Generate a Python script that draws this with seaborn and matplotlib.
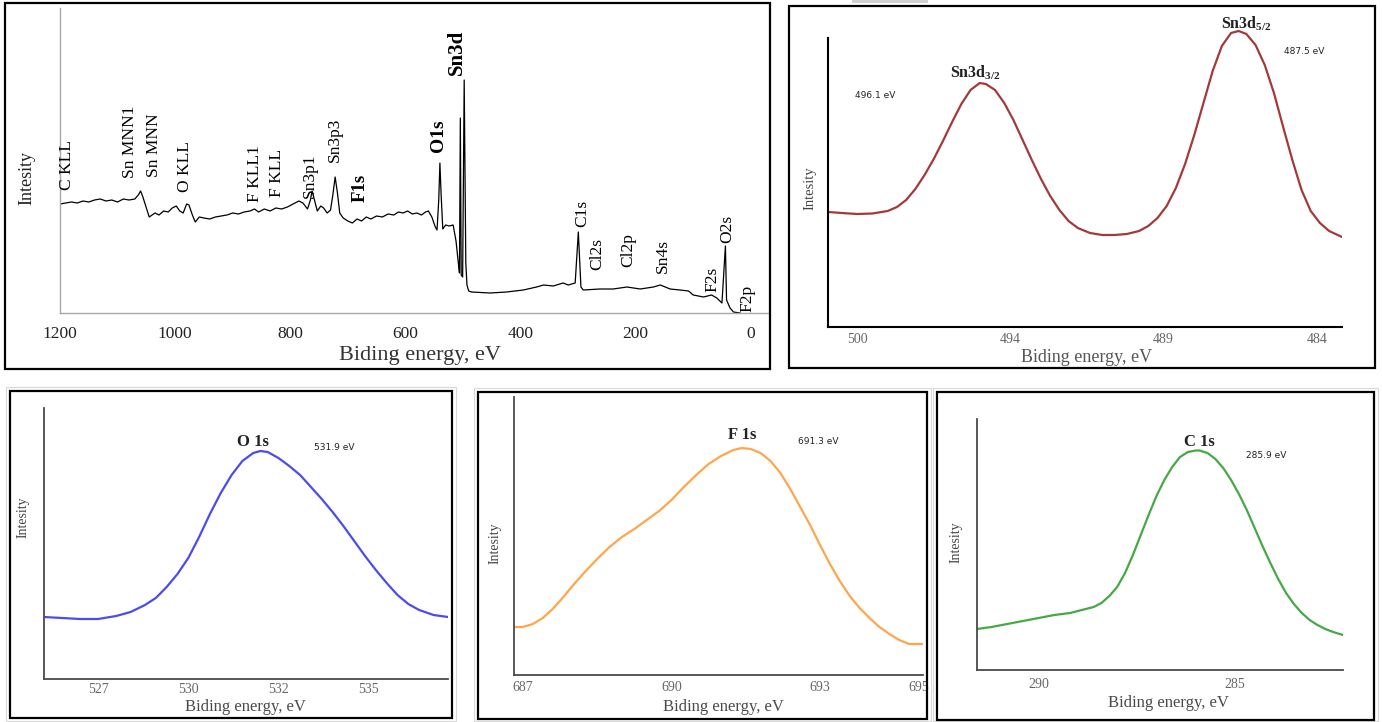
import numpy as np
import pandas as pd
import seaborn as sns
import matplotlib.pyplot as plt
from matplotlib.patches import Rectangle

# Survey spectrum (binding energy, eV / intensity, arb. units)
survey_ev = [1200, 1190, 1180, 1170, 1160, 1150, 1140, 1130, 1120, 1110, 1100, 1090, 1080, 1070,
             1064, 1060, 1056, 1050, 1045, 1040, 1035, 1028, 1020, 1012, 1005, 998, 992, 986, 980,
             976, 970, 965, 958, 950, 940, 930, 920, 910, 900, 890, 880, 870, 862, 855, 845, 835,
             825, 815, 805, 795, 785, 778, 770, 765, 762, 758, 753, 747, 742, 736, 730, 726, 722,
             718, 714, 708, 700, 692, 684, 676, 668, 660, 650, 640, 630, 620, 612, 604, 596, 588,
             580, 572, 565, 560, 554, 548, 545, 542, 540, 538, 535, 530, 524, 517, 512, 508, 506,
             504.5, 503, 500.5, 497.8, 495, 493, 490, 485, 482, 453, 424, 395, 372, 360, 343, 326,
             317, 305, 299.5, 295, 291, 262, 239, 215, 192, 169, 157, 140, 123, 108, 100, 82, 68,
             59, 50, 44, 42, 36, 30, 18.5]
survey_int = [109, 110, 111, 110, 112, 111, 113, 114, 112, 113, 111, 114, 113, 114,
              118, 122, 116, 105, 96, 98, 100, 98, 102, 101, 105, 107, 102, 100, 109,
              108, 98, 91, 96, 95, 94, 96, 97, 98, 100, 99, 101, 102, 104, 101, 104, 102,
              105, 104, 106, 109, 112, 110, 104, 113, 122, 113, 102, 107, 105, 100, 103, 118, 136,
              120, 100, 95, 92, 90, 94, 92, 96, 94, 97, 96, 99, 98, 101, 100, 102, 99,
              100, 98, 101, 102, 96, 86, 83, 113, 150, 120, 84, 88, 87, 88, 72, 50, 40,
              195, 38, 36, 233, 50, 28, 22, 21, 21, 20, 21, 23, 26, 28, 27, 30,
              28, 30, 81, 26, 23, 24, 24, 26, 24, 26, 28, 24, 23, 22, 18, 16, 18,
              15, 10, 67, 13, 5, 1, 0]
survey_tick_vals = [1200, 1000, 800, 600, 400, 200, 0]

survey_peaks = ["C KLL", "Sn MNN1", "Sn MNN", "O KLL", "F KLL1", "F KLL", "Sn3p1", "Sn3p3",
                "F1s", "O1s", "Sn3d", "C1s", "Cl2s", "Cl2p", "Sn4s", "F2s", "O2s", "F2p"]
survey_peak_ev = [1188, 1078, 1037, 983, 861, 823, 766, 722, 679, 543, 510, 293, 267, 213,
                  152, 67, 41, 6]
survey_peak_int = [123, 135, 136, 121, 111, 116, 115, 151, 111, 161, 238, 86, 43, 46, 40, 21,
                   70, 1]
survey_bold = ["F1s", "O1s", "Sn3d"]

# Sn 3d high resolution
sn_ev = [500.94, 500.5, 500.0, 499.5, 499.0, 498.7, 498.4, 498.1, 497.8, 497.5, 497.2, 496.9,
         496.6, 496.3, 496.0, 495.8, 495.5, 495.2, 494.9, 494.6, 494.3, 494.0, 493.7, 493.4,
         493.1, 492.8, 492.4, 492.0, 491.6, 491.2, 490.8, 490.5, 490.2, 489.9, 489.6, 489.3,
         489.0, 488.7, 488.4, 488.1, 487.8, 487.55, 487.3, 487.0, 486.7, 486.4, 486.1, 485.8,
         485.5, 485.2, 484.9, 484.6, 484.18]
sn_int = [115, 114, 113, 113.5, 116, 120, 127, 138, 152, 168, 186, 205,
          223, 237, 244, 243, 237, 224, 207, 187, 167, 148, 131, 117,
          106, 99, 94, 92, 92, 93, 96, 101, 109, 121, 139, 163,
          192, 224, 256, 281, 294, 296, 293, 282, 262, 234, 200, 167,
          137, 116, 104, 96, 90]
sn_ticks = [500, 495, 490, 485]
sn_ticklabels = ["500", "494", "489", "484"]

# O 1s
o_ev = [526.0, 526.5, 527.0, 527.5, 528.0, 528.4, 528.8, 529.1, 529.4, 529.7, 530.0, 530.3,
        530.6, 530.9, 531.2, 531.5, 531.8, 532.0, 532.2, 532.5, 532.8, 533.1, 533.4, 533.7,
        534.0, 534.3, 534.6, 534.9, 535.2, 535.5, 535.8, 536.1, 536.4, 536.8, 537.2]
o_int = [62, 61, 60, 60, 63, 67, 74, 81, 92, 105, 121, 142,
         165, 186, 204, 218, 226, 228, 227, 221, 213, 204, 192, 180,
         167, 153, 138, 123, 109, 96, 84, 75, 69, 64, 62]
o_ticks = [527.5, 530, 532.5, 535]
o_ticklabels = ["527", "530", "532", "535"]

# F 1s
f_ev = [686.82, 687.0, 687.2, 687.4, 687.6, 687.8, 688.0, 688.25, 688.5, 688.75, 689.0, 689.25,
        689.5, 689.75, 690.0, 690.25, 690.5, 690.75, 691.0, 691.25, 691.42, 691.6, 691.8, 692.0,
        692.2, 692.4, 692.6, 692.8, 693.0, 693.2, 693.4, 693.6, 693.8, 694.0, 694.2, 694.4,
        694.6, 694.8, 695.08]
f_int = [48, 48, 51, 57, 66, 77, 89, 103, 116, 128, 138, 146,
         155, 164, 175, 188, 200, 211, 219, 225, 227, 226, 222, 214,
         202, 186, 168, 150, 130, 111, 94, 79, 67, 57, 48, 41,
         35, 31, 31]
f_ticks = [687, 690, 693, 695]

# C 1s
c_ev = [291.57, 291.2, 290.8, 290.4, 290.0, 289.6, 289.2, 288.9, 288.6, 288.4, 288.2, 288.0,
        287.8, 287.6, 287.4, 287.2, 287.0, 286.8, 286.6, 286.4, 286.2, 286.0, 285.9, 285.7,
        285.5, 285.3, 285.1, 284.9, 284.7, 284.5, 284.3, 284.1, 283.9, 283.7, 283.5, 283.3,
        283.1, 282.9, 282.7, 282.5, 282.25]
c_int = [41, 43, 46, 49, 52, 55, 57, 60, 63, 67, 74, 83,
         97, 115, 135, 155, 174, 190, 203, 213, 218, 219.5, 219.5, 217,
         211, 202, 190, 176, 160, 142, 124, 107, 91, 77, 66, 57,
         50, 45, 41, 38, 35]
c_ticks = [290, 287.5, 285, 282.5]
c_ticklabels = ["290", "", "285", ""]

sns.set_theme(style="white")
SERIF = ["Liberation Serif", "DejaVu Serif"]
plt.rcParams["font.family"] = SERIF
plt.rcParams["mathtext.fontset"] = "custom"
plt.rcParams["mathtext.rm"] = "Liberation Serif"
plt.rcParams["mathtext.bf"] = "Liberation Serif:bold"

W, H = 1382, 722
fig = plt.figure(figsize=(W / 100, H / 100), dpi=100)
fig.patch.set_facecolor("white")


def px_axes(l, t, r, b):
    return fig.add_axes([l / W, 1 - b / H, (r - l) / W, (b - t) / H])


def px_text(x, y, s, **kw):
    fig.text(x / W, 1 - y / H, s, ha="center", va="center", **kw)


def px_box(l, t, r, b, color="black", lw=1.6):
    fig.patches.append(Rectangle((l / W, 1 - b / H), (r - l) / W, (b - t) / H,
                                 transform=fig.transFigure, fill=False,
                                 edgecolor=color, linewidth=lw))


def style_axes(ax, spine_color, lw):
    ax.set_facecolor("none")
    for side in ["top", "right"]:
        ax.spines[side].set_visible(False)
    for side in ["left", "bottom"]:
        ax.spines[side].set_color(spine_color)
        ax.spines[side].set_linewidth(lw)
    ax.set_yticks([])
    ax.set_xlabel("")
    ax.set_ylabel("")


# outer frames
px_box(5, 3, 770, 369)
px_box(789, 6, 1375, 368)
fig.patches.append(Rectangle((852 / W, 1 - 3 / H), 76 / W, 3 / H, transform=fig.transFigure,
                             color="#d0d0d0", linewidth=0))
for l, t, r, b in [(6, 387, 456, 721), (474, 388, 931, 721), (933, 388, 1378, 721)]:
    px_box(l, t, r, b, color="#d8d8d8", lw=0.8)
px_box(10, 391, 452, 718)
px_box(478, 392, 927, 719)
px_box(937, 392, 1374, 720)

# ---- survey ----
ax1 = px_axes(60, 8, 768, 313)
survey = pd.DataFrame({"ev": survey_ev, "int": survey_int})
sns.lineplot(data=survey, x="ev", y="int", ax=ax1, color="black", linewidth=0.9,
             errorbar=None)
ax1.set_xlim(1200, -30)
ax1.set_ylim(0, 305)
style_axes(ax1, "#a8a8a8", 1.0)
ax1.set_xticks(survey_tick_vals)
ax1.set_xticklabels([str(v) for v in survey_tick_vals])
ax1.tick_params(axis="x", length=0, pad=9, labelsize=12.5, labelcolor="#222222")
for name, ev, yi in zip(survey_peaks, survey_peak_ev, survey_peak_int):
    bold = name in survey_bold
    size = {"Sn3d": 15, "O1s": 14, "F1s": 13.5}.get(name, 12.5)
    ax1.text(ev, yi, name, rotation=90, ha="center", va="bottom", fontsize=size,
             fontweight="bold" if bold else "normal", color="black")
px_text(420, 355, "Biding energy, eV", fontsize=16, color="#333333")
px_text(27, 178, "Intesity", fontsize=13, rotation=90, color="#222222")

# ---- Sn 3d ----
ax2 = px_axes(828, 22, 1342, 327)
sns.lineplot(x=sn_ev, y=sn_int, ax=ax2, color="#a33a3a", linewidth=1.6, errorbar=None)
ax2.set_xlim(500.95, 484.18)
ax2.set_ylim(0, 305)
style_axes(ax2, "black", 1.5)
ax2.spines["left"].set_bounds(0, 289)
ax2.set_xticks(sn_ticks)
ax2.set_xticklabels(sn_ticklabels)
ax2.tick_params(axis="x", direction="in", length=3, width=0.8, color="#555555", pad=4,
                labelsize=10, labelcolor="#666666")
ax2.text(496.15, 254, r"Sn3d$_{\mathbf{3/2}}$", ha="center", va="center", fontsize=11.5,
         fontweight="bold", color="#222222")
ax2.text(487.3, 303, r"Sn3d$_{\mathbf{5/2}}$", ha="center", va="center", fontsize=11.5,
         fontweight="bold", color="#222222")
ax2.text(499.4, 232, "496.1 eV", ha="center", va="center", fontsize=6.5,
         family="DejaVu Sans", color="#222222")
ax2.text(485.4, 276, "487.5 eV", ha="center", va="center", fontsize=6.5,
         family="DejaVu Sans", color="#222222")
px_text(1087, 357, "Biding energy, eV", fontsize=13, color="#555555")
px_text(810, 188, "Intesity", fontsize=10.5, rotation=90, color="#444444")

# ---- O 1s ----
ax3 = px_axes(44, 408, 448, 679)
sns.lineplot(x=o_ev, y=o_int, ax=ax3, color="#4b4bf0", linewidth=1.6, errorbar=None)
ax3.set_xlim(526.0, 537.2)
ax3.set_ylim(0, 271)
style_axes(ax3, "#4a4a4a", 1.3)
ax3.set_xticks(o_ticks)
ax3.set_xticklabels(o_ticklabels)
ax3.tick_params(axis="x", length=0, pad=3, labelsize=10, labelcolor="#666666")
ax3.text(531.8, 237, "O 1s", ha="center", va="center", fontsize=12, fontweight="bold",
         color="#222222")
ax3.text(534.05, 231, "531.9 eV", ha="center", va="center", fontsize=6.5,
         family="DejaVu Sans", color="#222222")
px_text(245, 707, "Biding energy, eV", fontsize=12, color="#4a4a4a")
px_text(23, 517, "Intesity", fontsize=10, rotation=90, color="#444444")

# ---- F 1s ----
ax4 = px_axes(514, 397, 923, 675)
sns.lineplot(x=f_ev, y=f_int, ax=ax4, color="#ffa64d", linewidth=1.6, errorbar=None)
ax4.set_xlim(686.82, 695.08)
ax4.set_ylim(0, 278)
style_axes(ax4, "#4a4a4a", 1.3)
ax4.set_xticks(f_ticks)
ax4.set_xticklabels([str(v) for v in f_ticks])
ax4.set_xticks(np.arange(687.5, 695, 0.5), minor=True)
ax4.tick_params(axis="x", which="both", direction="in", length=2.5, width=0.8,
                color="#666666", pad=4, labelsize=10, labelcolor="#666666")
ax4.text(691.43, 240, "F 1s", ha="center", va="center", fontsize=12, fontweight="bold",
         color="#222222")
ax4.text(692.97, 234, "691.3 eV", ha="center", va="center", fontsize=6.5,
         family="DejaVu Sans", color="#222222")
px_text(723, 707, "Biding energy, eV", fontsize=12, color="#4a4a4a")
px_text(495, 543, "Intesity", fontsize=10, rotation=90, color="#444444")

# ---- C 1s ----
ax5 = px_axes(977, 419, 1343, 670)
sns.lineplot(x=c_ev, y=c_int, ax=ax5, color="#46a846", linewidth=1.6, errorbar=None)
ax5.set_xlim(291.57, 282.25)
ax5.set_ylim(0, 251)
style_axes(ax5, "#4a4a4a", 1.3)
ax5.set_xticks(c_ticks)
ax5.set_xticklabels(c_ticklabels)
ax5.tick_params(axis="x", direction="out", length=3, width=0.8, color="#555555", pad=3,
                labelsize=10, labelcolor="#666666")
ax5.text(285.92, 228, "C 1s", ha="center", va="center", fontsize=12, fontweight="bold",
         color="#222222")
ax5.text(284.21, 214, "285.9 eV", ha="center", va="center", fontsize=6.5,
         family="DejaVu Sans", color="#222222")
px_text(1168, 703, "Biding energy, eV", fontsize=12, color="#4a4a4a")
px_text(956, 542, "Intesity", fontsize=10, rotation=90, color="#444444")

fig.savefig("out.png", dpi=100)
